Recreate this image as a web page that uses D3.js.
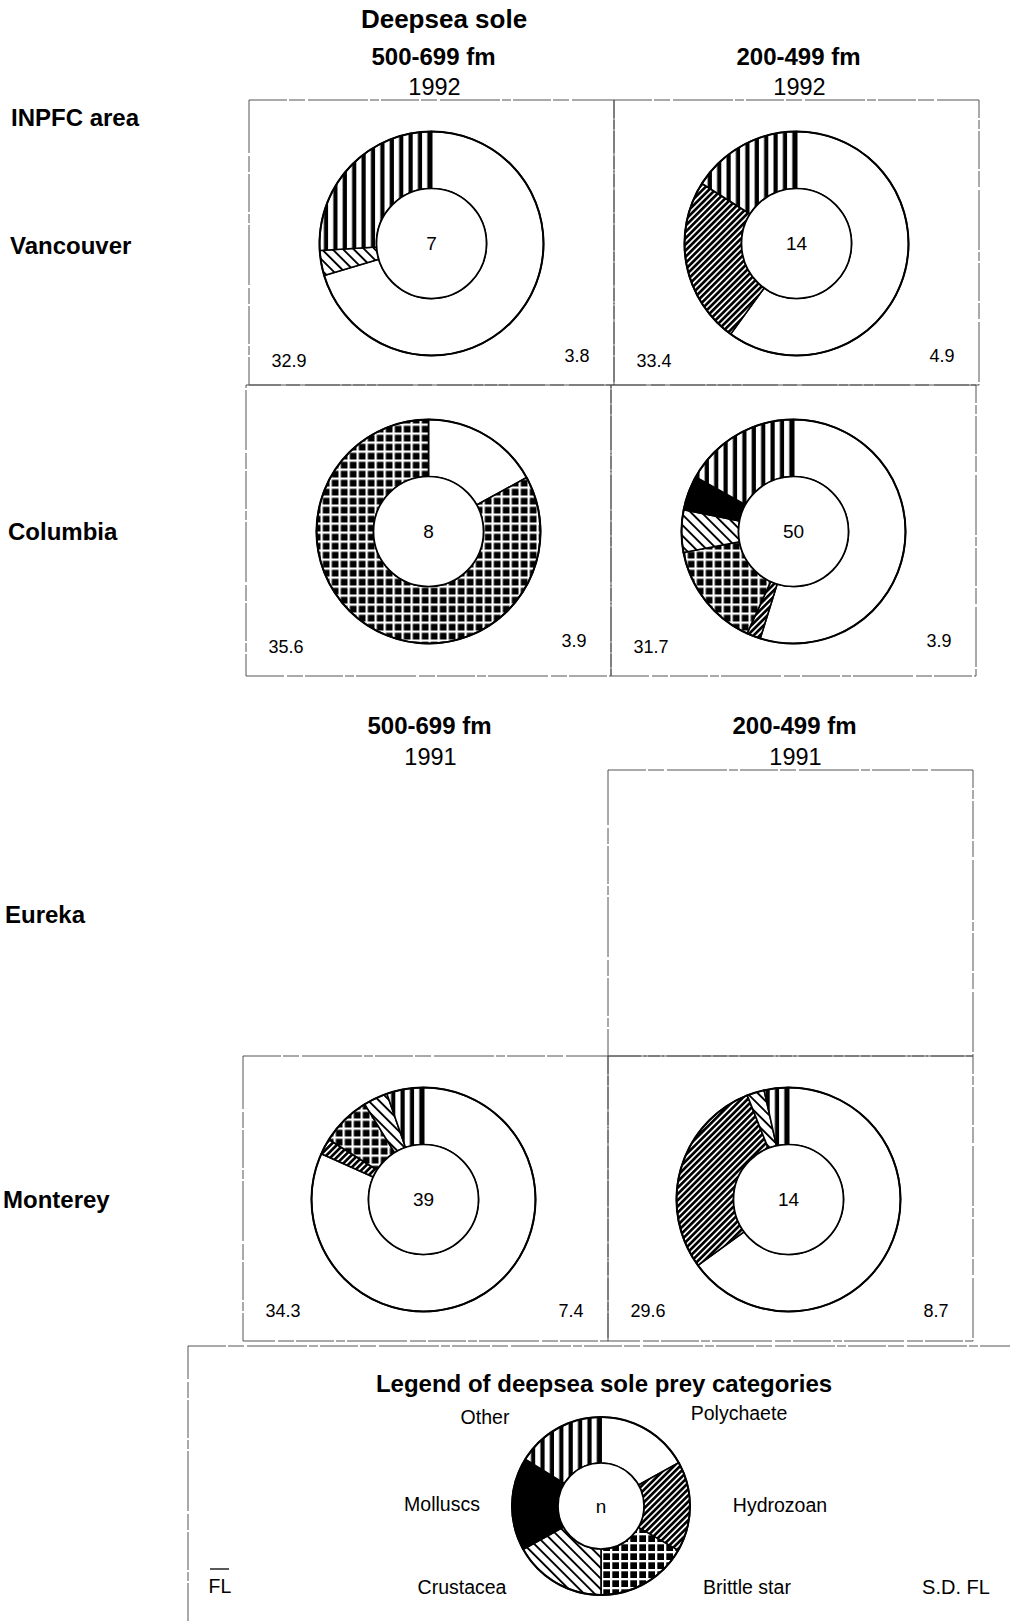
<!DOCTYPE html>
<html>
<head>
<meta charset="utf-8">
<script src="https://cdn.jsdelivr.net/npm/d3@7"></script>
<style>
  html, body { margin: 0; padding: 0; background: #fff; }
  svg { display: block; font-family: "Liberation Sans", Arial, Helvetica, sans-serif; }
</style>
</head>
<body>
<svg id="chart" width="1010" height="1621"></svg>
<script>
// ---- data ----
const categories  = ["Polychaete", "Hydrozoan", "Brittle star", "Crustacea", "Molluscs", "Other"];
const areaLabels  = ["Vancouver", "Columbia", "Eureka", "Monterey"];
const depthLabels = ["500-699 fm", "200-499 fm"];
const yearLabels  = ["1992", "1991"];

// one entry per sampled cell (area x depth)
const cellArea  = ["Vancouver", "Vancouver", "Columbia", "Columbia", "Monterey", "Monterey"];
const cellDepth = ["500-699 fm", "200-499 fm", "500-699 fm", "200-499 fm", "500-699 fm", "200-499 fm"];
const sampleN   = [7, 14, 8, 50, 39, 14];
const meanFL    = [32.9, 33.4, 35.6, 31.7, 34.3, 29.6];
const sdFL      = [3.8, 4.9, 3.9, 3.9, 7.4, 8.7];

// percent of diet by prey category, in the order of `categories`
const dietVancouverDeep    = [70.4, 0, 0, 3.6, 0, 26.0];
const dietVancouverShallow = [60.0, 24.0, 0, 0, 0, 16.0];
const dietColumbiaDeep     = [17.0, 0, 83.0, 0, 0, 0];
const dietColumbiaShallow  = [54.8, 2.0, 15.2, 6.1, 5.0, 16.9];
const dietMontereyDeep     = [81.7, 2.3, 7.2, 3.5, 0, 5.3];
const dietMontereyShallow  = [65.0, 29.0, 0, 2.5, 0, 3.5];
const cellDiet = [dietVancouverDeep, dietVancouverShallow, dietColumbiaDeep,
                  dietColumbiaShallow, dietMontereyDeep, dietMontereyShallow];

// key wheel
const legendShares = [16.9, 16.4, 16.7, 16.9, 16.9, 16.2];

// cells that were surveyed but hold no diet sample
const emptyArea  = ["Eureka"];
const emptyDepth = ["200-499 fm"];

// ---- layout ----
const svg = d3.select("#chart");
const rowBox = {            // row top / bottom, left-edge shift, wheel shift, corner-label offsets
  Vancouver: { y0: 100,  y1: 385,  dx: 3,  wx: 0,  flDy: -24, sdDy: -29 },
  Columbia:  { y0: 385,  y1: 676,  dx: 0,  wx: 0,  flDy: -29, sdDy: -35 },
  Eureka:    { y0: 770,  y1: 1056, dx: -3, wx: 0,  flDy: -30, sdDy: -30 },
  Monterey:  { y0: 1056, y1: 1341, dx: -3, wx: -2, flDy: -30, sdDy: -30 }
};
const depthX = d3.scaleBand().domain(depthLabels).range([246, 976]).paddingInner(0);
const rowLabelY = { Vancouver: 245, Columbia: 531, Eureka: 914, Monterey: 1199 };
const rowLabelX = { Vancouver: 10, Columbia: 8, Eureka: 5, Monterey: 3 };
const outerR = 112, innerR = 55;

const fillFor = d3.scaleOrdinal()
  .domain(categories)
  .range(["#fff", "url(#p-hydro)", "url(#p-brittle)", "url(#p-crust)", "#000", "url(#p-other)"]);

// ---- fill patterns (pattern space follows each wheel's centre) ----
const defs = svg.append("defs");
const hydro = defs.append("pattern").attr("id", "p-hydro").attr("patternUnits", "userSpaceOnUse")
  .attr("width", 4.4).attr("height", 10).attr("patternTransform", "rotate(45)");
hydro.append("rect").attr("width", 4.4).attr("height", 10).attr("fill", "#fff");
hydro.append("rect").attr("width", 2.7).attr("height", 10).attr("fill", "#000");

const brittle = defs.append("pattern").attr("id", "p-brittle").attr("patternUnits", "userSpaceOnUse")
  .attr("width", 9).attr("height", 9);
brittle.append("rect").attr("width", 9).attr("height", 9).attr("fill", "#000");
brittle.append("rect").attr("width", 2.3).attr("height", 9).attr("fill", "#fff");
brittle.append("rect").attr("width", 9).attr("height", 2.3).attr("fill", "#fff");

const crust = defs.append("pattern").attr("id", "p-crust").attr("patternUnits", "userSpaceOnUse")
  .attr("width", 7.5).attr("height", 10).attr("patternTransform", "rotate(-45)");
crust.append("rect").attr("width", 7.5).attr("height", 10).attr("fill", "#fff");
crust.append("rect").attr("width", 1.9).attr("height", 10).attr("fill", "#000");

const other = defs.append("pattern").attr("id", "p-other").attr("patternUnits", "userSpaceOnUse")
  .attr("width", 9.4).attr("height", 10);
other.append("rect").attr("width", 9.4).attr("height", 10).attr("fill", "#fff");
other.append("rect").attr("x", 5.2).attr("width", 4.2).attr("height", 10).attr("fill", "#000");

// ---- helpers ----
const pie = d3.pie().sort(null).value(d => d.value);

function drawWheel(g, values, R, r) {
  const slices = categories.map((c, i) => ({ cat: c, value: values[i] })).filter(d => d.value > 0);
  const arc = d3.arc().innerRadius(r).outerRadius(R);
  g.selectAll("path.slice").data(pie(slices)).join("path")
    .attr("class", "slice")
    .attr("d", arc)
    .attr("fill", d => fillFor(d.data.cat))
    .attr("stroke", "#000").attr("stroke-width", 1.6).attr("stroke-linejoin", "round");
  g.append("circle").attr("r", R).attr("fill", "none").attr("stroke", "#000").attr("stroke-width", 2);
  g.append("circle").attr("r", r).attr("fill", "#fff").attr("stroke", "#000").attr("stroke-width", 1.7);
}

function boxFor(area, depth) {
  const rb = rowBox[area];
  const x0 = depthX(depth) + rb.dx, x1 = x0 + depthX.bandwidth();
  return { x0, x1, y0: rb.y0, y1: rb.y1 };
}

function drawBox(b) {
  svg.append("rect")
    .attr("x", b.x0).attr("y", b.y0).attr("width", b.x1 - b.x0).attr("height", b.y1 - b.y0)
    .attr("fill", "none").attr("stroke", "#555").attr("stroke-width", 1)
    .attr("stroke-dasharray", "38 2 16 3 60 2 9 2");
}

// ---- titles ----
svg.append("text").attr("x", 444).attr("y", 19).attr("text-anchor", "middle")
  .attr("dominant-baseline", "central").attr("font-weight", "bold").attr("font-size", 26)
  .text("Deepsea sole");

const headRows = [
  { year: yearLabels[0], yFm: 56,  yYear: 87,  shift: 5 },
  { year: yearLabels[1], yFm: 725, yYear: 757, shift: 1 }
];
headRows.forEach(h => {
  depthLabels.forEach(dp => {
    const cx = depthX(dp) + depthX.bandwidth() / 2 + h.shift;
    svg.append("text").attr("x", cx).attr("y", h.yFm).attr("text-anchor", "middle")
      .attr("dominant-baseline", "central").attr("font-weight", "bold").attr("font-size", 24).text(dp);
    svg.append("text").attr("x", cx + 1).attr("y", h.yYear).attr("text-anchor", "middle")
      .attr("dominant-baseline", "central").attr("font-size", 23.5).text(h.year);
  });
});

svg.append("text").attr("x", 11).attr("y", 117).attr("dominant-baseline", "central")
  .attr("font-weight", "bold").attr("font-size", 24).text("INPFC area");
areaLabels.forEach(a => {
  svg.append("text").attr("x", rowLabelX[a]).attr("y", rowLabelY[a]).attr("dominant-baseline", "central")
    .attr("font-weight", "bold").attr("font-size", 24).text(a);
});

// ---- cells ----
emptyArea.forEach((a, i) => drawBox(boxFor(a, emptyDepth[i])));

cellArea.forEach((a, i) => {
  const rb = rowBox[a];
  const b = boxFor(a, cellDepth[i]);
  drawBox(b);
  const cx = (b.x0 + b.x1) / 2 + rb.wx, cy = (b.y0 + b.y1) / 2 + 1;
  const g = svg.append("g").attr("transform", `translate(${cx},${cy})`);
  drawWheel(g, cellDiet[i], outerR, innerR);
  g.append("text").attr("y", 0).attr("text-anchor", "middle").attr("dominant-baseline", "central")
    .attr("font-size", 19).text(sampleN[i]);
  svg.append("text").attr("x", b.x0 + 40).attr("y", b.y1 + rb.flDy).attr("text-anchor", "middle")
    .attr("dominant-baseline", "central").attr("font-size", 18).text(meanFL[i].toFixed(1));
  svg.append("text").attr("x", b.x1 - 37).attr("y", b.y1 + rb.sdDy).attr("text-anchor", "middle")
    .attr("dominant-baseline", "central").attr("font-size", 18).text(sdFL[i].toFixed(1));
});

// ---- key ----
svg.append("rect").attr("x", 188).attr("y", 1346).attr("width", 900).attr("height", 400)
  .attr("fill", "none").attr("stroke", "#555").attr("stroke-width", 1)
  .attr("stroke-dasharray", "38 2 16 3 60 2 9 2");
svg.append("text").attr("x", 604).attr("y", 1383).attr("text-anchor", "middle")
  .attr("dominant-baseline", "central").attr("font-weight", "bold").attr("font-size", 24)
  .text("Legend of deepsea sole prey categories");

const keyG = svg.append("g").attr("transform", "translate(601,1506)");
drawWheel(keyG, legendShares, 89, 43);
keyG.append("text").attr("text-anchor", "middle").attr("dominant-baseline", "central")
  .attr("font-size", 19).text("n");

const keyLabelPos = {
  "Polychaete":   [739, 1413],
  "Hydrozoan":    [780, 1505],
  "Brittle star": [747, 1587],
  "Crustacea":    [462, 1587],
  "Molluscs":     [442, 1504],
  "Other":        [485, 1417]
};
categories.forEach(c => {
  svg.append("text").attr("x", keyLabelPos[c][0]).attr("y", keyLabelPos[c][1])
    .attr("text-anchor", "middle").attr("dominant-baseline", "central").attr("font-size", 19.5).text(c);
});

svg.append("text").attr("x", 220).attr("y", 1586).attr("text-anchor", "middle")
  .attr("dominant-baseline", "central").attr("font-size", 19.5).text("FL");
svg.append("line").attr("x1", 210).attr("x2", 229).attr("y1", 1569).attr("y2", 1569)
  .attr("stroke", "#000").attr("stroke-width", 1.3);
svg.append("text").attr("x", 956).attr("y", 1587).attr("text-anchor", "middle")
  .attr("dominant-baseline", "central").attr("font-size", 20).text("S.D. FL");
</script>
</body>
</html>
